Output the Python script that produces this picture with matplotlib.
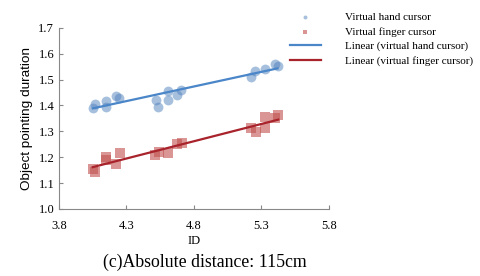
import numpy as np
import matplotlib.pyplot as plt

# values
hand_id = [4.05, 4.07, 4.15, 4.15, 4.22, 4.245, 4.52, 4.53, 4.61, 4.61,
           4.675, 4.705, 5.22, 5.25, 5.325, 5.40, 5.42]
hand_t = [1.391, 1.404, 1.417, 1.396, 1.438, 1.430, 1.422, 1.396, 1.455, 1.422,
          1.441, 1.460, 1.512, 1.532, 1.541, 1.560, 1.554]
finger_id = [4.05, 4.07, 4.15, 4.15, 4.22, 4.25, 4.515, 4.54, 4.61, 4.675,
             4.71, 5.22, 5.26, 5.33, 5.33, 5.40, 5.425]
finger_t = [1.153, 1.144, 1.201, 1.190, 1.173, 1.217, 1.208, 1.220, 1.217, 1.250,
            1.255, 1.314, 1.297, 1.355, 1.314, 1.353, 1.362]
xticks = [3.8, 4.3, 4.8, 5.3, 5.8]
yticks = [1.0, 1.1, 1.2, 1.3, 1.4, 1.5, 1.6, 1.7]

blue = '#4f81bd'
red = '#c0504d'
blue_line = '#4a86c8'
red_line = '#a8232b'
serif = 'Liberation Serif'

fig = plt.figure(figsize=(4.8, 2.76), dpi=100)
ax = fig.add_axes([0.123, 0.243, 0.562, 0.656])

ax.scatter(hand_id, hand_t, s=50, marker='o', color=blue, alpha=0.5,
           linewidths=0, label='Virtual hand cursor')
ax.scatter(finger_id, finger_t, s=42, marker='s', color=red, alpha=0.6,
           linewidths=0, label='Virtual finger cursor')

# linear trend lines
for xs, ys, c, lab in [(hand_id, hand_t, blue_line, 'Linear (virtual hand cursor)'),
                       (finger_id, finger_t, red_line, 'Linear (virtual finger cursor)')]:
    k, b = np.polyfit(xs, ys, 1)
    xx = np.array([min(xs), max(xs)])
    ax.plot(xx, k * xx + b, color=c, lw=1.6, label=lab)

ax.set_xlim(3.8, 5.8)
ax.set_ylim(1.0, 1.7)
ax.set_xticks(xticks)
ax.set_yticks(yticks)
ax.set_xticklabels(['%.1f' % v for v in xticks], fontfamily=serif, fontsize=9)
ax.set_yticklabels(['%.1f' % v for v in yticks], fontfamily=serif, fontsize=9)
ax.tick_params(direction='in', length=3, color='#888888', width=0.8)
ax.tick_params(axis='x', pad=8)
for s in ['top', 'right']:
    ax.spines[s].set_visible(False)
for s in ['left', 'bottom']:
    ax.spines[s].set_color('#888888')
    ax.spines[s].set_linewidth(0.8)

ax.set_ylabel('Object pointing duration', fontfamily='Liberation Sans', fontsize=9.7)
ax.set_xlabel('ID', fontfamily=serif, fontsize=9, labelpad=2)

fig.text(0.427, 0.05, '(c)Absolute distance: 115cm', fontfamily=serif,
         fontsize=12.8, ha='center', va='center')

fig.legend(loc='upper left', bbox_to_anchor=(0.604, 0.955), frameon=False,
           prop={'family': serif, 'size': 8}, borderpad=0, borderaxespad=0,
           handlelength=2.8, handletextpad=2.2, labelspacing=0.42, markerscale=0.4)

fig.savefig('out.png', dpi=100)
